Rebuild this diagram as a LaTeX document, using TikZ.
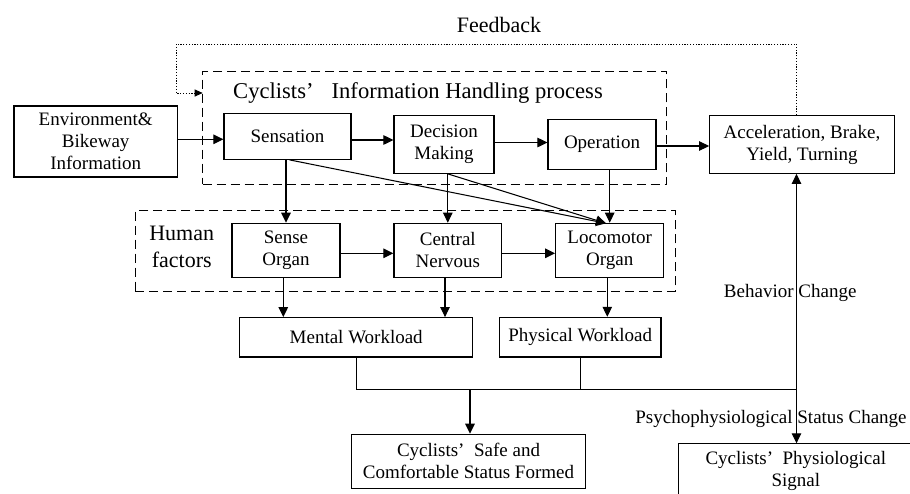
\documentclass[tikz,border=0pt]{standalone}
\usepackage{fontspec}
\setmainfont{Liberation Serif}
\usetikzlibrary{arrows.meta,calc}
\newcommand\fullq{’\hspace{0.5em}}
\begin{document}
\begin{tikzpicture}[x=1pt,y=-1pt,
  box/.style={draw,line width=1.15pt,inner sep=0pt,align=center,font=\fontsize{19}{22}\selectfont},
  arr/.style={line width=1.05pt,-{Triangle[length=10pt,width=9.5pt]}},
  ln/.style={line width=1.05pt},
  grp/.style={draw,line width=1pt,dash pattern=on 9pt off 5pt,inner sep=0pt},
  fb/.style={line width=1pt,dash pattern=on 1.2pt off 1.6pt,-{Triangle[length=8pt,width=7pt]}},
  lbl/.style={inner sep=0pt,align=center,font=\fontsize{19}{22}\selectfont},
  big/.style={inner sep=0pt,align=center,font=\fontsize{22}{26.5}\selectfont}]
\useasboundingbox (0,0) rectangle (910,493);
\clip (0,0) rectangle (910,493);
\fill[white] (0,0) rectangle (910,493);

% group frames
\node[grp,minimum width=464,minimum height=113.3] (g1) at (434.7,127.65) {};
\node[grp,minimum width=540.4,minimum height=80.3] (g2) at (405.5,250.85) {};
\node[big,font=\fontsize{22.6}{26.5}\selectfont] (head) at (418,93.3) {Cyclists’\hspace{0.8em}Information Handling process};
\node[big] (hf) at (181.7,246.7) {Human\\factors};
\node[big] (fbl) at (499,25) {Feedback};

% boxes
\node[box,minimum width=163.3,minimum height=71] (env) at (95.7,141.5) {Environment\&\\Bikeway\\Information};
\node[box,minimum width=127,minimum height=45.6] (sens) at (287.5,136.5) {Sensation};
\node[box,minimum width=100,minimum height=57.8] (dm) at (444,144.4) {Decision\\Making};
\node[box,minimum width=108,minimum height=49.6] (op) at (602,144.5) {Operation};
\node[box,minimum width=184.6,minimum height=57.6] (acc) at (802,144.5) {Acceleration, Brake,\\Yield, Turning};
\node[box,minimum width=108,minimum height=54] (so) at (286,250.3) {Sense\\Organ};
\node[box,minimum width=107.7,minimum height=54] (cn) at (447.8,250.3) {Central\\Nervous};
\node[box,minimum width=108,minimum height=54] (lo) at (609.7,250.3) {Locomotor\\Organ};
\node[box,minimum width=233,minimum height=39.3] (mw) at (356.2,337.3) {Mental Workload};
\node[box,minimum width=161.7,minimum height=39.7] (pw) at (580.2,337.2) {Physical Workload};
\node[box,minimum width=233.6,minimum height=54] (safe) at (468.5,461.3) {Cyclists\fullq Safe and\\Comfortable Status Formed};
\node[box,minimum width=235,minimum height=54,anchor=north west] (phys) at (677.7,443.3) {Cyclists\fullq Physiological\\Signal};

% coordinates
\coordinate (fbc) at (176,44);
\coordinate (fbt) at (202.7,93);
\coordinate (hub) at (796.5,389.3);
\coordinate (eA) at (177.3,139.3);
\coordinate (sA) at (351,140);
\coordinate (dA) at (494,142.5);
\coordinate (oA) at (656,146);
\coordinate (hA) at (340,253.3);
\coordinate (cA) at (501.7,253.3);
\coordinate (tip) at (606,223.3);

% feedback
\draw[fb] (acc.north -| hub) |- (fbc) |- (fbt);

% upper flow
\draw[arr] (eA) -- (eA -| sens.west);
\draw[arr] (sA) -- (sA -| dm.west);
\draw[arr] (dA) -- (dA -| op.west);
\draw[arr] (oA) -- (oA -| acc.west);

% down to human factors
\draw[arr] (so.north |- sens.south) -- (so.north);
\draw[arr] (cn.north |- dm.south) -- (cn.north);
\draw[arr] (lo.north |- op.south) -- (lo.north);
\draw[arr] ([xshift=2pt]sens.south) -- (tip);
\draw[arr] (cn.north |- dm.south) -- (tip);

% human factors flow
\draw[arr] (hA) -- (hA -| cn.west);
\draw[arr] (cA) -- (cA -| lo.west);

% to workloads
\draw[arr] ([xshift=-2.7pt]so.south) -- ([xshift=-2.7pt]so.south |- mw.north);
\draw[arr] ([xshift=-2.8pt]cn.south) -- ([xshift=-2.8pt]cn.south |- mw.north);
\draw[arr] ([xshift=-2.4pt]lo.south) -- ([xshift=-2.4pt]lo.south |- pw.north);

% joins
\draw[ln] (mw.south) |- (hub);
\draw[ln] (pw.south) -- (pw.south |- hub);
\draw[arr] (hub -| 470,0) -- (470,0 |- safe.north);
\draw[arr] (hub) -- (hub |- acc.south);
\draw[arr] (hub) -- (hub |- phys.north);

% labels
\node[lbl] (bc) at (790.2,293.3) {Behavior Change};
\node[lbl] (pc) at (771,419.3) {Psychophysiological Status Change};
\end{tikzpicture}
\end{document}
